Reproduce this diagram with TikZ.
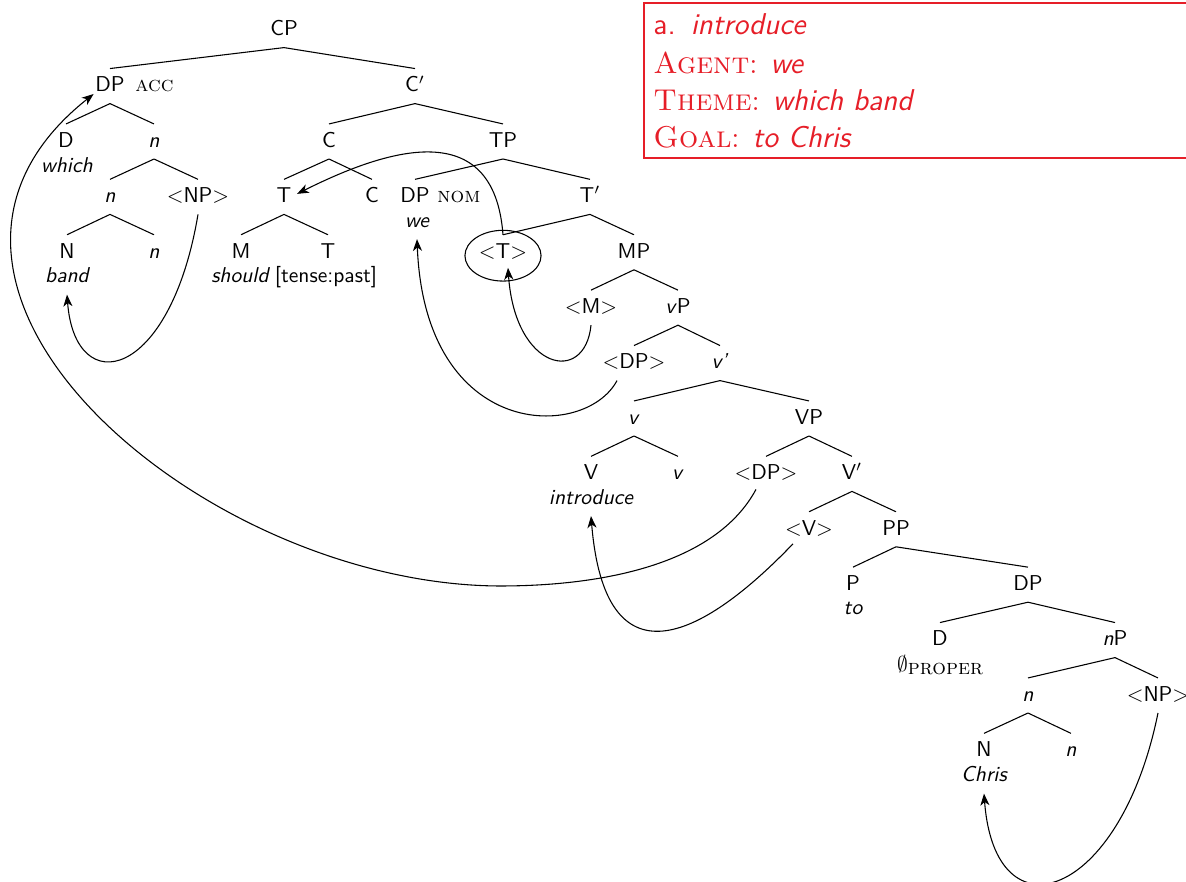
\documentclass[tikz,border=0pt]{standalone}
\usetikzlibrary{arrows.meta,calc}
\definecolor{boxred}{RGB}{230,30,40}
\begin{document}
\begin{tikzpicture}[x=0.465pt,y=-0.465pt,
 lab/.style={font=\sffamily, text height=7pt, text depth=1.5pt, inner xsep=2pt, inner ysep=3.7pt, anchor=base},
 wd/.style={lab, font=\sffamily\itshape},
 sc/.style={font=\rmfamily\scshape, anchor=base west, inner sep=0pt},
 br/.style={draw, line width=0.5pt},
 mv/.style={draw, line width=0.5pt, -{Stealth[length=5.5pt,width=4.2pt,inset=1.6pt]}},
 rl/.style={text=boxred, anchor=base west, inner sep=0pt, font=\fontsize{14}{17.5}\selectfont}]
\useasboundingbox (0,0) rectangle (1186,882);
% tree nodes
\node[lab] (CP) at (284,36) {CP};
\node[lab] (DPa) at (110,92) {DP};
\node[sc] (acc) at (135,92) {acc};
\node[lab] (Cb) at (415,92) {C$'$};
\node[lab] (D1) at (66,147.4) {D};
\node[wd] (which) at (67,172.5) {which};
\node[lab] (n1) at (154,147.4) {\textit{n}};
\node[lab] (n2) at (110,202.8) {\textit{n}};
\node[lab] (NP1) at (198,202.8) {$<$NP$>$};
\node[lab] (N1) at (67,258.2) {N};
\node[wd] (band) at (67,283) {band};
\node[lab] (n3) at (154,258.2) {\textit{n}};
\node[lab] (C1) at (329,147.4) {C};
\node[lab] (TP) at (503,147.4) {TP};
\node[lab] (T1) at (284,202.8) {T};
\node[lab] (C2) at (372,202.8) {C};
\node[lab] (M1) at (241,258.2) {M};
\node[wd] (should) at (240,283) {should};
\node[lab] (T2) at (328,258.2) {T};
\node[lab] (tense) at (326,283) {[tense:past]};
\node[lab] (DPn) at (415,202.8) {DP};
\node[sc] (nom) at (437,202.8) {nom};
\node[wd] (we) at (417,227.5) {we};
\node[lab] (Tb) at (590,202.8) {T$'$};
\node[lab] (Tt) at (503,258.2) {$<$T$>$};
\node[lab] (MP) at (634,258.2) {MP};
\node[lab] (Mt) at (591,313.6) {$<$M$>$};
\node[lab] (vP) at (678,313.6) {\textit{v}P};
\node[lab] (DPt1) at (634,369) {$<$DP$>$};
\node[lab] (vb) at (720,369) {\textit{v'}};
\node[lab] (v1) at (634,424.4) {\textit{v}};
\node[lab] (VP) at (809,424.4) {VP};
\node[lab] (V1) at (591,479.8) {V};
\node[wd] (introduce) at (591,504.5) {introduce};
\node[lab] (v2) at (678,479.8) {\textit{v}};
\node[lab] (DPt2) at (766,479.8) {$<$DP$>$};
\node[lab] (Vb) at (852,479.8) {V$'$};
\node[lab] (Vt) at (809,535.2) {$<$V$>$};
\node[lab] (PP) at (896,535.2) {PP};
\node[lab] (P1) at (853,590.6) {P};
\node[wd] (to) at (853,615) {to};
\node[lab] (DP2) at (1028,590.6) {DP};
\node[lab] (D2) at (940,646) {D};
\node[lab] (prop) at (940,672) {$\emptyset$\raisebox{-1pt}{\rmfamily\scshape proper}};
\node[lab] (nP) at (1115,646) {\textit{n}P};
\node[lab] (n4) at (1028,701.4) {\textit{n}};
\node[lab] (NP2) at (1158,701.4) {$<$NP$>$};
\node[lab] (N2) at (984,756.8) {N};
\node[wd] (Chris) at (984,782) {Chris};
\node[lab] (n5) at (1071,756.8) {\textit{n}};
% branches
\foreach \a/\b in {CP/DPa,CP/Cb,DPa/D1,DPa/n1,n1/n2,n1/NP1,n2/N1,n2/n3,Cb/C1,Cb/TP,C1/T1,C1/C2,T1/M1,T1/T2,TP/DPn,TP/Tb,Tb/Tt,Tb/MP,MP/Mt,MP/vP,vP/DPt1,vP/vb,vb/v1,vb/VP,v1/V1,v1/v2,VP/DPt2,VP/Vb,Vb/Vt,Vb/PP,PP/P1,PP/DP2,DP2/D2,DP2/nP,nP/n4,nP/NP2,n4/N2,n4/n5}
  \draw[br] (\a.south) -- (\b.north);
% circle round <T>
\draw[line width=0.5pt] ($(Tt.base)+(0,-2.5)$) ellipse [x radius=17.7pt, y radius=11.8pt];
% movement arrows
\draw[mv] (NP1.south) .. controls +(-28,167) and +(8,106) .. (band.south);
\coordinate (low) at (500,586);
\draw[mv] ($(DPt2.south)+(-10,-2)$) .. controls +(-41,76) and +(100,0) .. (low) .. controls +(-300,-1) and +(-240,190) .. ($(DPa.base west)+(3,2)$);
\draw[mv] (Tt.north) .. controls +(-9,-120) and +(90,-45) .. ($(T1.east)+(1,-3)$);
\draw[mv] (Mt.south) .. controls +(-6,60) and +(7,103) .. ($(Tt.south)+(5,-2)$);
\draw[mv] ($(DPt1.south)+(-17,0)$) .. controls +(-32,60) and +(8,202) .. (we.south);
\draw[mv] ($(Vt.south)+(-16,-3)$) .. controls +(-93,97) and +(14,170) .. (introduce.south);
\draw[mv] (NP2.south) .. controls +(-38,187) and +(11,147) .. (Chris.south);
% red box (its right side lies beyond the page edge)
\draw[boxred, line width=0.6pt] (1400,3) -- (644,3) -- (644,158) -- (1400,158);
\node[rl] (ra) at (653,35) {\sffamily a.\hspace{7pt}\itshape introduce};
\node[rl] (rb) at (653,74) {\textsc{Agent}: {\sffamily\itshape we}};
\node[rl] (rc) at (653,110.5) {\textsc{Theme}: {\sffamily\itshape which band}};
\node[rl] (rd) at (653,148) {\textsc{Goal}: {\sffamily\itshape to Chris}};
\end{tikzpicture}
\end{document}
